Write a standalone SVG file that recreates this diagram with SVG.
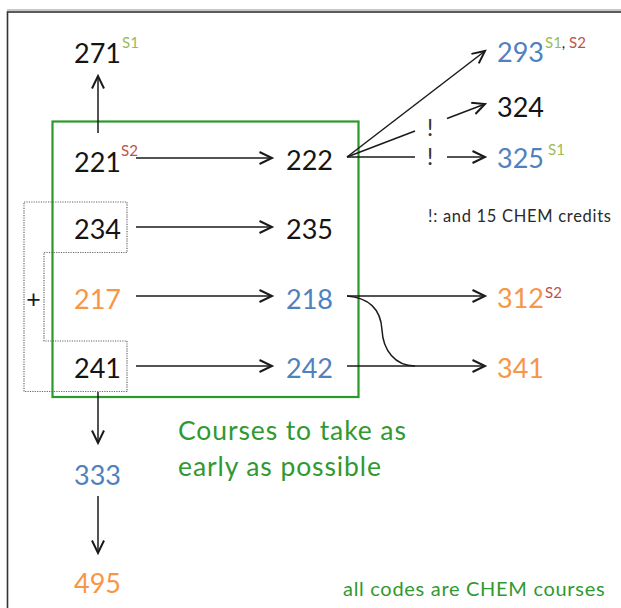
<svg xmlns="http://www.w3.org/2000/svg" width="621" height="608" viewBox="0 0 621 608">
  <defs>
    <marker id="arrow" markerUnits="userSpaceOnUse" markerWidth="18" markerHeight="18" refX="14" refY="7" orient="auto">
      <path d="M1.5,1 L14,7 L1.5,13" fill="none" stroke="#1a1a1a" stroke-width="2" stroke-linejoin="miter"/>
    </marker>
    <style>
      text { font-family: Lato, "Open Sans", "DejaVu Sans", sans-serif; }
      .code { font-size: 27px; text-anchor: middle; }
      .sup { font-size: 15px; }
      .black { fill: #141414; }
      .blue { fill: #4f81bd; }
      .orange { fill: #f79646; }
      .s1 { fill: #9bbb59; }
      .s2 { fill: #c0504d; }
      .green { fill: #30992f; }
      .link { fill: none; stroke: #1a1a1a; stroke-width: 1.5; }
      .arrowed { marker-end: url(#arrow); }
      .bang { font-size: 23px; fill: #333; text-anchor: middle; }
    </style>
  </defs>

  <rect width="621" height="608" fill="#ffffff"/>

  <!-- outer frame (continues past the right and bottom edges) -->
  <line x1="7" y1="10" x2="621" y2="10" stroke="#c8c8c8" stroke-width="2"/>
  <rect x="7.5" y="12" width="700" height="700" fill="none" stroke="#333" stroke-width="1.6"/>

  <!-- early-courses box -->
  <g id="early-box">
    <rect x="52.5" y="121.5" width="306" height="275.5" fill="none" stroke="#2a9a2a" stroke-width="2.2"/>
    <text x="178" y="440" class="green" font-size="26.5" letter-spacing="0.9">Courses to take as</text>
    <text x="178" y="476" class="green" font-size="26.5" letter-spacing="0.9">early as possible</text>
  </g>

  <!-- alternative grouping: 234 or 241, plus 217 -->
  <g id="alt-group">
    <path d="M24,202 H127 V252.5 H44 V341 H127 V391.5 H24 Z" fill="none" stroke="#666" stroke-width="1.2" stroke-dasharray="1.2 1.2"/>
    <text x="33.5" y="308" font-size="25" fill="#1a1a1a" text-anchor="middle">+</text>
  </g>

  <!-- connectors -->
  <g id="connectors">
    <path class="link arrowed" d="M98,133 V76"/>
    <path class="link arrowed" d="M136,158 H272"/>
    <path class="link arrowed" d="M136,227 H272"/>
    <path class="link arrowed" d="M136,296 H272"/>
    <path class="link arrowed" d="M136,366 H272"/>
    <path class="link arrowed" d="M98,392 V443"/>
    <path class="link arrowed" d="M98,496 V553"/>
    <path class="link arrowed" d="M347,157 L485,51"/>
    <path class="link" d="M347,157 L415,131"/>
    <path class="link arrowed" d="M447,118.5 L485,104"/>
    <path class="link" d="M347,157 H415"/>
    <path class="link arrowed" d="M447,157 H485"/>
    <text x="430" y="136" class="bang">!</text>
    <text x="430" y="165" class="bang">!</text>
    <path class="link arrowed" d="M347,296 H485"/>
    <path class="link arrowed" d="M347,366 H485"/>
    <path class="link" d="M347,296 C372,298 381,312 382,330 C383,350 395,366 415,366"/>
  </g>

  <!-- course nodes -->
  <g id="n271"><text x="97.5" y="63" class="code black">271</text><text x="122" y="48" class="sup s1">S1</text></g>
  <g id="n221"><text x="97.5" y="172" class="code black">221</text><text x="121" y="156" class="sup s2">S2</text></g>
  <g id="n222"><text x="309.5" y="170" class="code black">222</text></g>
  <g id="n234"><text x="97.5" y="239" class="code black">234</text></g>
  <g id="n235"><text x="309.5" y="239" class="code black">235</text></g>
  <g id="n217"><text x="97.5" y="309" class="code orange">217</text></g>
  <g id="n218"><text x="309.5" y="309" class="code blue">218</text></g>
  <g id="n241"><text x="97.5" y="378" class="code black">241</text></g>
  <g id="n242"><text x="309.5" y="378" class="code blue">242</text></g>
  <g id="n333"><text x="97.5" y="485" class="code blue">333</text></g>
  <g id="n495"><text x="97.5" y="593" class="code orange">495</text></g>
  <g id="n293"><text x="520.5" y="62" class="code blue">293</text><text x="545" y="48" class="sup"><tspan class="s1">S1</tspan><tspan fill="#222">, </tspan><tspan class="s2">S2</tspan></text></g>
  <g id="n324"><text x="520.5" y="117" class="code black">324</text></g>
  <g id="n325"><text x="520.5" y="168" class="code blue">325</text><text x="548" y="155" class="sup s1">S1</text></g>
  <g id="n312"><text x="520.5" y="308" class="code orange">312</text><text x="545" y="298" class="sup s2">S2</text></g>
  <g id="n341"><text x="520.5" y="378" class="code orange">341</text></g>

  <!-- notes -->
  <g id="notes">
    <text x="428" y="222" font-size="16.5" letter-spacing="0.7" fill="#2a2a2a">!: and 15 CHEM credits</text>
    <text x="343" y="596" font-size="20" letter-spacing="0.7" class="green">all codes are CHEM courses</text>
  </g>
</svg>
